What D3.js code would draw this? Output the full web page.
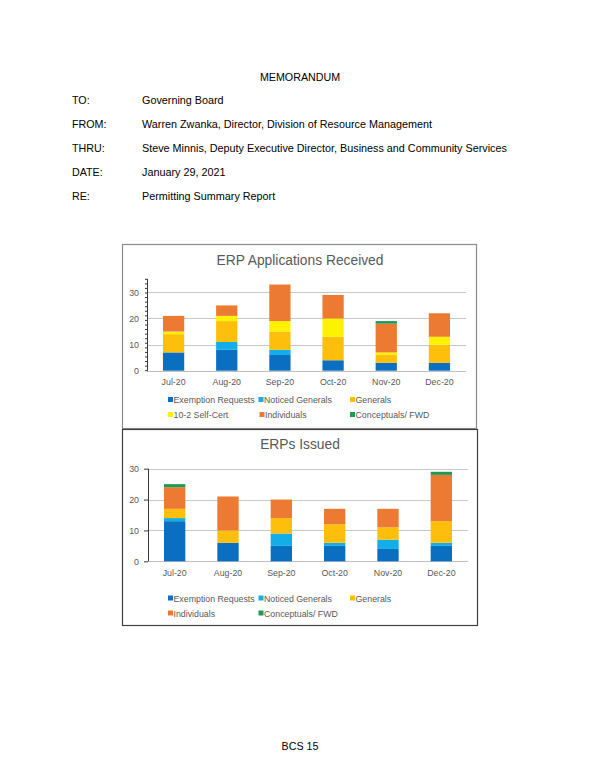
<!DOCTYPE html>
<html><head><meta charset="utf-8">
<script src="https://cdn.jsdelivr.net/npm/d3@7"></script>
<style>html,body{margin:0;padding:0;background:#fff;}svg{display:block;font-family:"Liberation Sans",Arial,sans-serif;}</style>
</head><body>
<svg id="page" width="600" height="777"></svg>
<script>
const months = ["Jul-20","Aug-20","Sep-20","Oct-20","Nov-20","Dec-20"];
// ERP Applications Received
const recvExemption   = [7,8,6,4,3,3];
const recvNoticed     = [0,3,2,0,0,0];
const recvGenerals    = [7,8,7,9,3,7];
const recvSelfCert    = [1,2,4,7,1,3];
const recvIndividuals = [6,4,14,9,11,9];
const recvConceptual  = [0,0,0,0,1,0];
// ERPs Issued
const issExemption   = [13,6,5,5,4,5];
const issNoticed     = [1,0,4,1,3,1];
const issGenerals    = [3,4,5,6,4,7];
const issIndividuals = [7,11,6,5,6,15];
const issConceptual  = [1,0,0,0,0,1];
const yTicks = [0,10,20,30];
const headerLabels = ["TO:","FROM:","THRU:","DATE:","RE:"];
const headerValues = ["Governing Board","Warren Zwanka, Director, Division of Resource Management",
  "Steve Minnis, Deputy Executive Director, Business and Community Services","January 29, 2021","Permitting Summary Report"];

const colors = {
  "Exemption Requests":"#0a6fc0","Noticed Generals":"#13aee8","Generals":"#fdbf0c",
  "10-2 Self-Cert":"#fef200","Individuals":"#ec7a32","Conceptuals/ FWD":"#1e9a55"
};

const svg = d3.select("#page");
// header
svg.append("text").attr("x",300).attr("y",80.5).attr("text-anchor","middle")
  .attr("font-size",10.7).attr("fill","#000").text("MEMORANDUM");
const rowY = [104,127.8,151.7,175.7,199.5];
headerLabels.forEach((l,i)=>{
  svg.append("text").attr("x",72).attr("y",rowY[i]).attr("font-size",10.7).attr("fill","#000").text(l);
  svg.append("text").attr("x",142).attr("y",rowY[i]).attr("font-size",10.8).attr("fill","#000").text(headerValues[i]);
});
svg.append("text").attr("x",300).attr("y",750).attr("text-anchor","middle")
  .attr("font-size",10.7).attr("fill","#000").text("BCS 15");

function chart(cfg){
  const g = svg.append("g");
  g.append("rect").attr("x",cfg.box[0]+0.5).attr("y",cfg.box[1]+0.5)
    .attr("width",cfg.box[2]).attr("height",cfg.box[3])
    .attr("fill","#fff").attr("stroke",cfg.border).attr("stroke-width",1.2);
  g.append("text").attr("x",300).attr("y",cfg.titleY).attr("text-anchor","middle")
    .attr("font-size",13.8).attr("fill","#595959").text(cfg.title);
  const x = d3.scaleBand().domain(months).range([cfg.left,cfg.right]);
  const y = d3.scaleLinear().domain([0,cfg.ymax]).range([cfg.y0,cfg.yTop]);
  // gridlines
  g.selectAll(".grid").data(yTicks).join("line")
    .attr("x1",cfg.left).attr("x2",cfg.right)
    .attr("y1",d=>Math.round(y(d))+0.5).attr("y2",d=>Math.round(y(d))+0.5)
    .attr("stroke",d=>d===0?"#bfbfbf":"#c8c8c8").attr("stroke-width",1);
  // bars
  const keys = cfg.series.map(s=>s.name);
  const rows = months.map((m,i)=>{const r={month:m}; cfg.series.forEach(s=>r[s.name]=s.values[i]); return r;});
  const stack = d3.stack().keys(keys)(rows);
  const bw = x.bandwidth()*0.4;
  stack.forEach(layer=>{
    g.selectAll(null).data(layer).join("rect")
      .attr("x",d=>x(d.data.month)+(x.bandwidth()-bw)/2)
      .attr("width",bw)
      .attr("y",d=>y(d[1]))
      .attr("height",d=>y(d[0])-y(d[1]))
      .attr("fill",colors[layer.key]);
  });
  // y axis
  const ax = g.append("g").attr("transform",`translate(${cfg.left},0)`)
    .call(d3.axisLeft(y).tickValues(yTicks).tickSize(cfg.minor?0:4).tickPadding(cfg.minor?8:5));
  ax.select(".domain").attr("stroke","#3a3a3a").attr("d",`M0.5,${cfg.y0}V${cfg.yTop}`);
  ax.selectAll(".tick line").attr("stroke","#3a3a3a");
  ax.selectAll("text").attr("font-size",8.8).attr("fill","#595959").attr("font-family","Liberation Sans, Arial, sans-serif");
  if(cfg.minor){
    const minorVals = d3.range(0,cfg.ymax+0.01,1.75);
    g.selectAll(".minor").data(minorVals).join("line")
      .attr("x1",cfg.left-2).attr("x2",cfg.left+1)
      .attr("y1",d=>y(d)).attr("y2",d=>y(d)).attr("stroke","#3a3a3a").attr("stroke-width",1);
  }
  // x axis labels
  const xa = g.append("g").attr("transform",`translate(0,${cfg.y0})`)
    .call(d3.axisBottom(x).tickSize(0).tickPadding(cfg.xPad));
  xa.select(".domain").remove();
  xa.selectAll("text").attr("font-size",8.8).attr("fill","#595959").attr("font-family","Liberation Sans, Arial, sans-serif");
  // legend
  cfg.legend.forEach((it)=>{
    g.append("rect").attr("x",it[1]).attr("y",it[2]-3).attr("width",5).attr("height",5).attr("fill",colors[it[0]]);
    g.append("text").attr("x",it[1]+5.5).attr("y",it[2]+3).attr("font-size",8.8).attr("fill","#595959").text(it[0]);
  });
}

chart({
  box:[122,244,354,184], border:"#8a8a8a", title:"ERP Applications Received", titleY:264.5,
  left:147, right:466, y0:370.7, yTop:279.3, ymax:35, minor:true, xPad:8,
  series:[
    {name:"Exemption Requests",values:recvExemption},
    {name:"Noticed Generals",values:recvNoticed},
    {name:"Generals",values:recvGenerals},
    {name:"10-2 Self-Cert",values:recvSelfCert},
    {name:"Individuals",values:recvIndividuals},
    {name:"Conceptuals/ FWD",values:recvConceptual}],
  legend:[["Exemption Requests",168,400],["Noticed Generals",258.5,400],["Generals",350,400],
          ["10-2 Self-Cert",168,415],["Individuals",259.5,415],["Conceptuals/ FWD",350,415]]
});
chart({
  box:[122,429,355,196], border:"#404040", title:"ERPs Issued", titleY:449,
  left:148, right:468, y0:561.3, yTop:468.7, ymax:30, minor:false, xPad:8,
  series:[
    {name:"Exemption Requests",values:issExemption},
    {name:"Noticed Generals",values:issNoticed},
    {name:"Generals",values:issGenerals},
    {name:"Individuals",values:issIndividuals},
    {name:"Conceptuals/ FWD",values:issConceptual}],
  legend:[["Exemption Requests",168,598.5],["Noticed Generals",258.5,598.5],["Generals",350,598.5],
          ["Individuals",168,613.5],["Conceptuals/ FWD",258.5,613.5]]
});
</script>
</body></html>
